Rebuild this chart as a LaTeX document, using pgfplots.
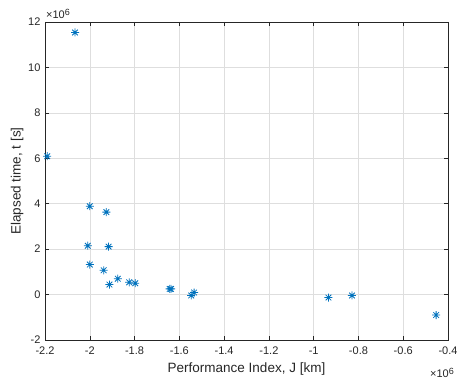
\documentclass[border=0pt]{standalone}
\usepackage{fontspec}
\setmainfont{Liberation Sans}
\usepackage{pgfplots}
\pgfplotsset{compat=1.18}
\definecolor{mblue}{rgb}{0,0.447,0.741}
\definecolor{mgray}{rgb}{0.15,0.15,0.15}
\pgfdeclareplotmark{mstar}{%
  \pgfpathmoveto{\pgfqpoint{-\pgfplotmarksize}{0pt}}\pgfpathlineto{\pgfqpoint{\pgfplotmarksize}{0pt}}%
  \pgfpathmoveto{\pgfqpoint{0pt}{-\pgfplotmarksize}}\pgfpathlineto{\pgfqpoint{0pt}{\pgfplotmarksize}}%
  \pgfpathmoveto{\pgfqpoint{-0.707\pgfplotmarksize}{-0.707\pgfplotmarksize}}\pgfpathlineto{\pgfqpoint{0.707\pgfplotmarksize}{0.707\pgfplotmarksize}}%
  \pgfpathmoveto{\pgfqpoint{-0.707\pgfplotmarksize}{0.707\pgfplotmarksize}}\pgfpathlineto{\pgfqpoint{0.707\pgfplotmarksize}{-0.707\pgfplotmarksize}}%
  \pgfusepathqstroke}
\newcommand{\sci}{×10\raisebox{0.55ex}{\fontsize{9}{10}\selectfont 6}}
\begin{document}
\begin{tikzpicture}
\useasboundingbox (0,0) rectangle (457pt,386pt);
\begin{axis}[
  at={(45pt,46pt)}, anchor=south west,
  scale only axis, width=403pt, height=318pt,
  xmin=-2.2, xmax=-0.4, ymin=-2, ymax=12,
  xtick={-2.2,-2,...,-0.4}, ytick={-2,0,...,12},
  xticklabels={-2.2,-2,-1.8,-1.6,-1.4,-1.2,-1,-0.8,-0.6,-0.4},
  yticklabels={-2,0,2,4,6,8,10,12},
  scaled ticks=false,
  grid=major,
  major grid style={draw=black!13, line width=0.5pt},
  axis line style={draw=mgray, line width=0.5pt},
  tick style={draw=mgray, line width=0.5pt},
  tick align=inside, major tick length=4pt,
  xtick pos=both, ytick pos=both,
  ticklabel style={font=\fontsize{11}{13}\selectfont, text=mgray},
  xticklabel style={yshift=-3pt},
  yticklabel style={xshift=-1pt},
  xlabel={Performance Index, J [km]},
  ylabel={Elapsed time, t [s]},
  label style={font=\fontsize{13.5}{15}\selectfont, text=mgray},
  xlabel style={yshift=-2pt},
  ylabel style={yshift=-2pt},
  clip=false,
]
\addplot[only marks, mark=mstar, mark size=4pt, mblue, line width=0.8pt] coordinates {
(-2.066,11.54) (-2.19,6.09)
(-2.00,3.89) (-1.926,3.63) (-2.009,2.15) (-1.916,2.11)
(-2.00,1.32) (-1.938,1.07) (-1.912,0.44) (-1.875,0.70)
(-1.824,0.54) (-1.797,0.50) (-1.643,0.25) (-1.637,0.25)
(-1.547,-0.04) (-1.534,0.09)
(-0.934,-0.13) (-0.829,-0.04) (-0.453,-0.90)
};
\node[anchor=south west, font=\fontsize{11}{13}\selectfont, text=mgray, inner sep=0pt] at (rel axis cs:0,1) [yshift=3pt, xshift=1pt] {\sci};
\node[anchor=north east, font=\fontsize{11}{13}\selectfont, text=mgray, inner sep=0pt] at (rel axis cs:1,0) [yshift=-28pt, xshift=6pt] {\sci};
\end{axis}
\end{tikzpicture}
\end{document}
